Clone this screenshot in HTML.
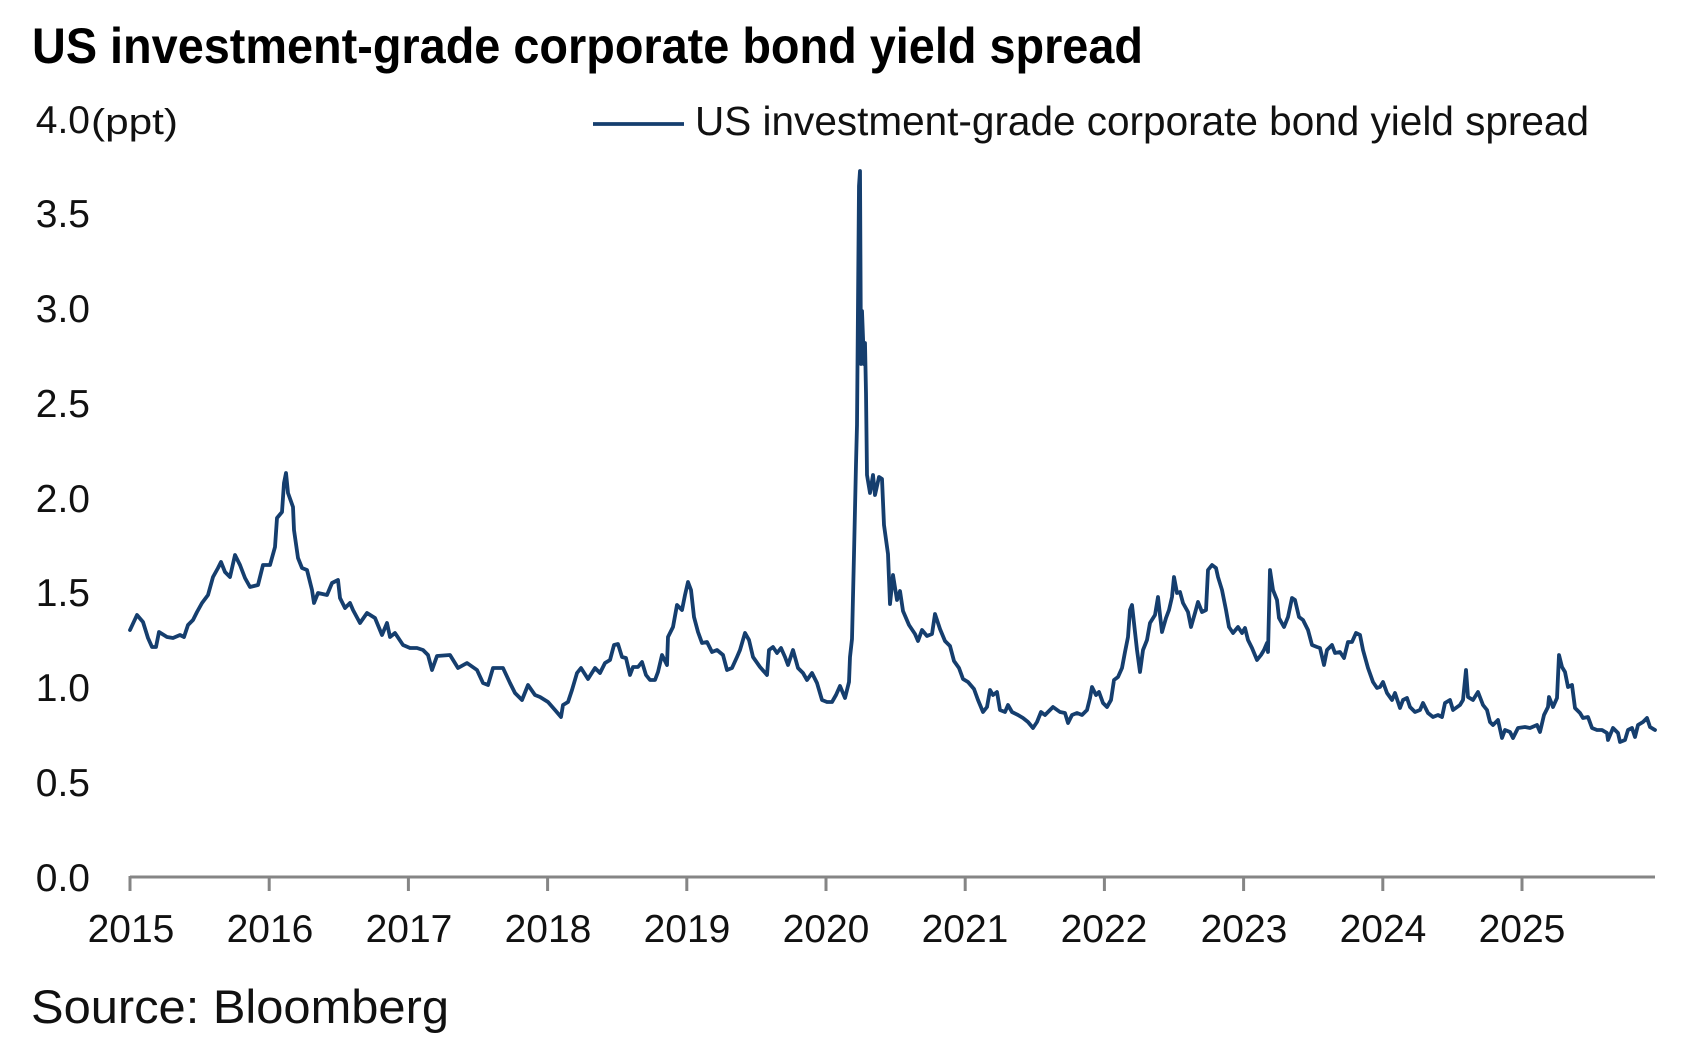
<!DOCTYPE html>
<html>
<head>
<meta charset="utf-8">
<style>
  html, body { margin: 0; padding: 0; background: #ffffff; }
  svg { display: block; }
  text { font-family: "Liberation Sans", Arial, sans-serif; fill: #111; }
</style>
</head>
<body>
<svg width="1689" height="1048" viewBox="0 0 1689 1048" xmlns="http://www.w3.org/2000/svg">
  <rect x="0" y="0" width="1689" height="1048" fill="#ffffff"/>

  <!-- Title -->
  <text x="32" y="63" font-size="50" font-weight="bold" textLength="1111" lengthAdjust="spacingAndGlyphs" style="fill:#000">US investment-grade corporate bond yield spread</text>

  <!-- Y axis labels -->
  <g font-size="39" text-anchor="end">
    <text x="90" y="133">4.0</text>
    <text x="90" y="227">3.5</text>
    <text x="90" y="322">3.0</text>
    <text x="90" y="417">2.5</text>
    <text x="90" y="512">2.0</text>
    <text x="90" y="606">1.5</text>
    <text x="90" y="701">1.0</text>
    <text x="90" y="796">0.5</text>
    <text x="90" y="891">0.0</text>
  </g>
  <text x="91" y="134" font-size="36" textLength="87" lengthAdjust="spacingAndGlyphs">(ppt)</text>

  <!-- Legend -->
  <line x1="593" y1="124" x2="684" y2="124" stroke="#153e6e" stroke-width="3.8"/>
  <text x="695" y="135" font-size="41" textLength="894" lengthAdjust="spacingAndGlyphs">US investment-grade corporate bond yield spread</text>

  <!-- X axis -->
  <line x1="130" y1="877" x2="1655" y2="877" stroke="#858585" stroke-width="3"/>
  <g stroke="#858585" stroke-width="3">
    <line x1="130" y1="876" x2="130" y2="891"/>
    <line x1="269.2" y1="876" x2="269.2" y2="891"/>
    <line x1="408.4" y1="876" x2="408.4" y2="891"/>
    <line x1="547.6" y1="876" x2="547.6" y2="891"/>
    <line x1="686.8" y1="876" x2="686.8" y2="891"/>
    <line x1="826" y1="876" x2="826" y2="891"/>
    <line x1="965.2" y1="876" x2="965.2" y2="891"/>
    <line x1="1104.4" y1="876" x2="1104.4" y2="891"/>
    <line x1="1243.6" y1="876" x2="1243.6" y2="891"/>
    <line x1="1382.8" y1="876" x2="1382.8" y2="891"/>
    <line x1="1522" y1="876" x2="1522" y2="891"/>
  </g>
  <g font-size="39" text-anchor="middle">
    <text x="131" y="942">2015</text>
    <text x="270" y="942">2016</text>
    <text x="409" y="942">2017</text>
    <text x="548" y="942">2018</text>
    <text x="687" y="942">2019</text>
    <text x="826" y="942">2020</text>
    <text x="965" y="942">2021</text>
    <text x="1104" y="942">2022</text>
    <text x="1244" y="942">2023</text>
    <text x="1383" y="942">2024</text>
    <text x="1522" y="942">2025</text>
  </g>

  <!-- Series -->
  <polyline fill="none" stroke="#153e6e" stroke-width="3.8" stroke-linejoin="round" stroke-linecap="round" points="
130,630 137,615 143,622 148,638 152,647 156,647 159,632 167,637 173,638 180,635 184,637 188,625 193,620 197,612 202,603 208,595 213,577 218,568 221,562 225,572 230,577 235,555 240,565 245,578 250,587 258,585 263,565 270,565 275,547 277,518 282,512 284,483 286,473 288,493 293,507 294,530 298,558 302,568 307,570 312,590 314,603 318,593 327,595 332,583 338,580 340,598 345,608 350,603 353,610 360,623 367,613 375,618 382,635 387,623 390,637 395,633 403,645 410,648 417,648 423,650 428,655 432,670 437,656 450,655 458,668 467,663 477,670 483,683 488,685 493,668 503,668 510,683 515,693 522,700 528,685 535,695 540,697
548,702 555,710 561,717 563,705 568,702 572,690 577,673 581,668 588,679 595,668 600,673 605,663 610,660 614,645 618,644 622,657 626,658 630,675 633,667 638,667 642,662 646,675 650,680 655,680 658,672 662,655 667,665 668,637 673,627 677,605 682,610 685,595 688,582 691,590 694,617 698,632 702,643 707,642 712,652 717,650 723,655 727,670 732,668 737,657 740,650 745,633 749,640 753,657 760,667 767,675 769,650 773,647 777,653 781,648 785,657 788,665 793,650 798,668 803,673 807,680 812,673 817,683 822,700 827,702 832,702
836,695 840,686 845,698 849,682 850,657 852,639 854,554 856,464 857,425 859,186 860,171 861,364 862,311 864,364 865,343 866,393 867,475 870,493 873,475 875,495 879,477 882,479 884,525 888,554 890,604 893,575 897,600 900,591 903,611 909,625 915,634 918,641 922,630 927,636 932,634 935,614 940,629 945,641 950,646 954,661 959,668 963,679 968,682 974,689
978,700 983,712 987,707 990,690 993,695 997,692 1000,710 1005,712 1008,705 1012,712 1018,715 1023,718 1028,722 1033,728 1037,722 1041,712 1045,715 1053,707 1060,712 1065,713 1068,723 1072,715 1077,713 1082,715 1087,710 1090,698 1092,687 1096,695 1099,692 1103,703 1107,707 1111,700 1114,680 1118,677 1122,668 1125,652 1128,637 1130,610 1132,605 1134,623 1137,650 1140,672 1143,650 1147,640 1150,623 1155,615 1158,597 1160,615 1162,632 1166,618 1169,610 1172,597 1174,577 1177,593 1180,592 1183,603 1188,612 1191,627 1195,613 1198,602 1202,612 1206,610 1208,570 1212,565 1216,568 1218,577 1222,590 1226,610 1229,627 1233,633 1238,627 1242,633 1245,628 1248,640 1252,648 1257,660 1261,655 1264,650 1267,643 1268,652 1270,570 1273,590 1277,600 1279,618 1284,627 1288,617 1292,598 1295,600 1299,617 1303,620 1308,630 1312,645 1317,647
1320,648 1324,665 1327,650 1332,645 1335,653 1340,652 1344,658 1348,642 1352,642 1356,633 1360,635 1363,650 1368,668 1373,682 1377,688 1380,687 1383,682 1387,693 1392,700 1395,693 1400,708 1403,700 1407,698 1410,707 1415,712 1420,710 1423,703 1428,713 1433,717 1438,715 1442,717 1445,703 1450,700 1453,710 1460,705 1463,700 1466,670 1468,697 1473,700 1478,692 1483,705 1487,710 1490,722 1493,725 1498,720 1502,738 1505,730 1510,732 1513,738 1518,728 1525,727 1530,728 1537,725 1540,732 1544,715 1548,707 1549,697 1553,707 1557,698 1559,655 1562,667 1565,672 1568,687 1572,685 1575,708 1580,713 1583,718 1588,717 1592,728 1597,730 1602,730 1607,733 1608,740 1613,728 1618,733 1620,742 1625,740 1628,730 1632,728 1635,737 1638,725 1643,722 1647,718 1650,727 1655,730"/>

  <!-- Source -->
  <text x="31" y="1023" font-size="47" textLength="418" lengthAdjust="spacingAndGlyphs">Source: Bloomberg</text>
</svg>
</body>
</html>
